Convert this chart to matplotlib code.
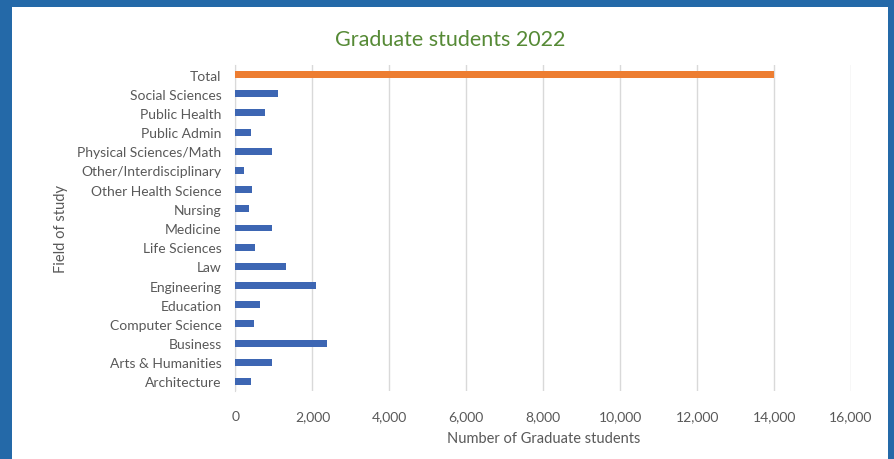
import matplotlib
matplotlib.use("Agg")
import matplotlib.pyplot as plt
from matplotlib.patches import Rectangle
from matplotlib.ticker import FuncFormatter, MultipleLocator

plt.rcParams['font.family'] = ['Lato', 'DejaVu Sans']

# Graduate students by field of study, 2022
fields = [
    "Architecture", "Arts & Humanities", "Business", "Computer Science",
    "Education", "Engineering", "Law", "Life Sciences", "Medicine",
    "Nursing", "Other Health Science", "Other/Interdisciplinary",
    "Physical Sciences/Math", "Public Admin", "Public Health",
    "Social Sciences", "Total",
]
students = [
    400, 960, 2370, 470,
    640, 2080, 1320, 510, 940,
    360, 430, 210,
    960, 390, 770,
    1100, 14000,
]

W, H = 894, 460
fig = plt.figure(figsize=(W / 100, H / 100), dpi=100)
fig.patch.set_facecolor("#2469a8")

# white chart panel inside the blue frame
panel = Rectangle((12 / W, 0), (888 - 12) / W, (H - 8) / H,
                  transform=fig.transFigure, facecolor="white",
                  edgecolor="none", zorder=-10)
fig.patches.append(panel)

ax = fig.add_axes([235.5 / W, 68 / H, (851 - 235.5) / W, (392 - 66) / H])
ax.set_facecolor("none")

colors = ["#3d66b3"] * (len(fields) - 1) + ["#ed7d31"]
ypos = range(len(fields))
ax.barh(ypos, students, height=0.36, color=colors, zorder=3)

ax.set_xlim(0, 16000)
ax.set_ylim(-0.5, len(fields) - 0.5)
ax.xaxis.set_major_locator(MultipleLocator(2000))
ax.xaxis.set_major_formatter(FuncFormatter(lambda v, p: f"{int(v):,}"))
ax.set_yticks(list(ypos))
ax.set_yticklabels(fields)

ax.grid(axis="x", color="#d9d9d9", linewidth=1, zorder=0)
for s in ["top", "right", "bottom"]:
    ax.spines[s].set_visible(False)
ax.spines["left"].set_color("#d9d9d9")
ax.tick_params(axis="both", length=0, colors="#595959", labelsize=10)
ax.tick_params(axis="y", pad=10)
ax.tick_params(axis="x", pad=14)

ax.set_xlabel("Number of Graduate students", color="#595959", fontsize=10.5, labelpad=6)
ax.set_ylabel("Field of study", color="#595959", fontsize=10.5, labelpad=7)

fig.text(450 / W, 1 - 40 / H, "Graduate students 2022", ha="center", va="center",
         color="#568a36", fontsize=15.5)

fig.savefig("out.png", dpi=100, facecolor=fig.get_facecolor())
